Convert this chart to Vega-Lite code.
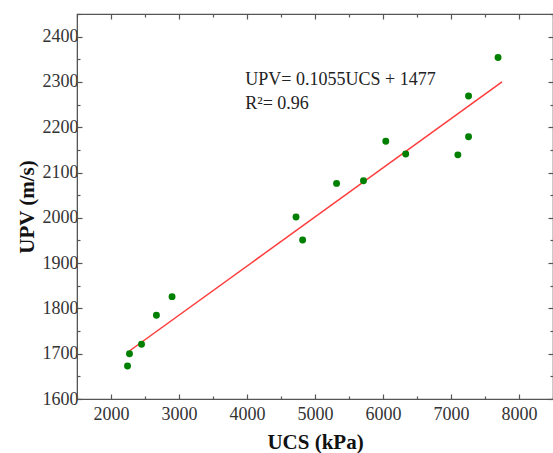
{
  "$schema": "https://vega.github.io/schema/vega-lite/v6.json",
  "width": 476,
  "height": 385,
  "autosize": {"type": "none"},
  "padding": {"left": 77, "top": 14, "right": 0, "bottom": 54},
  "background": "white",
  "config": {
    "view": {"stroke": "#555555", "strokeWidth": 1.2},
    "font": "Liberation Serif",
    "axis": {
      "labelFont": "Liberation Serif",
      "titleFont": "Liberation Serif",
      "labelFontSize": 18,
      "titleFontSize": 21,
      "titleFontWeight": "bold",
      "labelColor": "#333333",
      "titleColor": "#111111",
      "domainColor": "#555555",
      "tickColor": "#555555",
      "tickWidth": 1.2,
      "grid": false
    }
  },
  "datasets": {
    "pts": [
      {"UCS": 2243, "UPV": 1673},
      {"UCS": 2272, "UPV": 1700},
      {"UCS": 2449, "UPV": 1721},
      {"UCS": 2668, "UPV": 1785},
      {"UCS": 2898, "UPV": 1826},
      {"UCS": 4721, "UPV": 2002},
      {"UCS": 4818, "UPV": 1951},
      {"UCS": 5317, "UPV": 2076},
      {"UCS": 5713, "UPV": 2082},
      {"UCS": 6041, "UPV": 2169},
      {"UCS": 6334, "UPV": 2141},
      {"UCS": 7101, "UPV": 2139},
      {"UCS": 7258, "UPV": 2179},
      {"UCS": 7258, "UPV": 2269},
      {"UCS": 7692, "UPV": 2354}
    ],
    "fit": [
      {"UCS": 2270, "UPV": 1706},
      {"UCS": 7750, "UPV": 2300}
    ],
    "notes": [
      {"UCS": 3975, "UPV": 2305, "label": "UPV= 0.1055UCS + 1477"},
      {"UCS": 3975, "UPV": 2252, "label": "R²= 0.96"}
    ]
  },
  "layer": [
    {
      "data": {"name": "fit"},
      "mark": {"type": "line", "color": "#ff3b3b", "strokeWidth": 1.5},
      "encoding": {
        "x": {"field": "UCS", "type": "quantitative", "scale": {"domain": [1500, 8500], "nice": false, "zero": false},
          "axis": {"orient": "top", "labels": false, "title": null, "values": [1500,2000,2500,3000,3500,4000,4500,5000,5500,6000,6500,7000,7500,8000,8500],
            "tickSize": {"condition": {"test": "datum.value % 1000 === 0", "value": -5}, "value": -3}}},
        "y": {"field": "UPV", "type": "quantitative", "scale": {"domain": [1600, 2450], "nice": false, "zero": false},
          "axis": {"orient": "right", "labels": false, "title": null, "values": [1600,1650,1700,1750,1800,1850,1900,1950,2000,2050,2100,2150,2200,2250,2300,2350,2400,2450],
            "tickSize": {"condition": {"test": "datum.value % 100 === 0", "value": -5}, "value": -3}}}
      }
    },
    {
      "data": {"name": "pts"},
      "mark": {"type": "circle", "color": "#008000", "opacity": 1, "size": 48},
      "encoding": {
        "x": {"field": "UCS", "type": "quantitative", "title": "UCS (kPa)",
          "axis": {"orient": "bottom", "format": "d", "values": [1500,2000,2500,3000,3500,4000,4500,5000,5500,6000,6500,7000,7500,8000,8500],
            "labelExpr": "datum.value % 1000 === 0 && datum.value >= 2000 && datum.value <= 8000 ? datum.label : ''",
            "tickSize": {"condition": {"test": "datum.value % 1000 === 0", "value": -5}, "value": -3},
            "labelPadding": 11, "titlePadding": 8}},
        "y": {"field": "UPV", "type": "quantitative", "title": "UPV (m/s)",
          "axis": {"orient": "left", "format": "d", "values": [1600,1650,1700,1750,1800,1850,1900,1950,2000,2050,2100,2150,2200,2250,2300,2350,2400,2450],
            "labelExpr": "datum.value % 100 === 0 && datum.value <= 2400 ? datum.label : ''",
            "tickSize": {"condition": {"test": "datum.value % 100 === 0", "value": -5}, "value": -3},
            "labelPadding": 4, "titlePadding": 5}}
      }
    },
    {
      "data": {"name": "notes"},
      "mark": {"type": "text", "align": "left", "baseline": "middle", "font": "Liberation Serif", "fontSize": 18, "color": "#222222"},
      "encoding": {
        "x": {"field": "UCS", "type": "quantitative", "axis": null},
        "y": {"field": "UPV", "type": "quantitative", "axis": null},
        "text": {"field": "label"}
      }
    }
  ],
  "resolve": {"axis": {"x": "independent", "y": "independent"}}
}
